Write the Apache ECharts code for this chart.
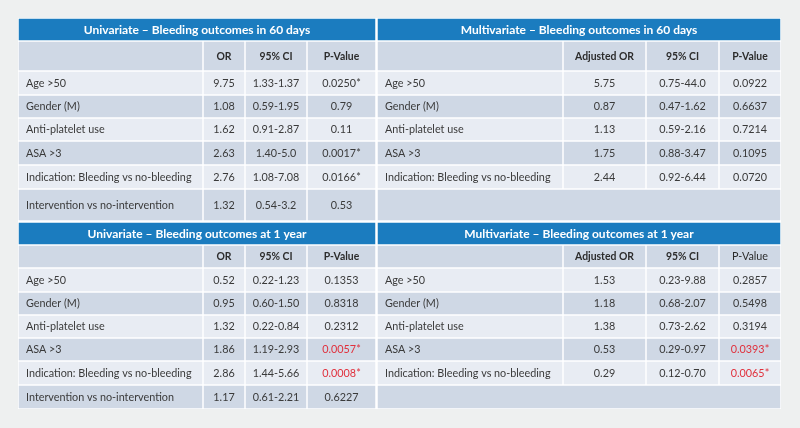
<!DOCTYPE html>
<html><head><meta charset="utf-8">
<script src="https://cdn.jsdelivr.net/npm/echarts@6/dist/echarts.min.js"></script>
<style>html,body{margin:0;padding:0;background:#eef0f0}#c{width:800px;height:428px}</style>
</head><body><div id="c"></div>
<script>
// ---- data ----
const titles = ['Univariate – Bleeding outcomes in 60 days','Multivariate – Bleeding outcomes in 60 days','Univariate – Bleeding outcomes at 1 year','Multivariate – Bleeding outcomes at 1 year'];
const uniHeads = ['OR','95% CI','P-Value'];
const multiHeads = ['Adjusted OR','95% CI','P-Value'];
const rowLabels = ['Age >50','Gender (M)','Anti-platelet use','ASA >3','Indication: Bleeding vs no-bleeding','Intervention vs no-intervention'];
const uni60_OR = ['9.75','1.08','1.62','2.63','2.76','1.32'];
const uni60_CI = ['1.33-1.37','0.59-1.95','0.91-2.87','1.40-5.0','1.08-7.08','0.54-3.2'];
const uni60_P  = ['0.0250*','0.79','0.11','0.0017*','0.0166*','0.53'];
const multi60_OR = ['5.75','0.87','1.13','1.75','2.44'];
const multi60_CI = ['0.75-44.0','0.47-1.62','0.59-2.16','0.88-3.47','0.92-6.44'];
const multi60_P  = ['0.0922','0.6637','0.7214','0.1095','0.0720'];
const uni1y_OR = ['0.52','0.95','1.32','1.86','2.86','1.17'];
const uni1y_CI = ['0.22-1.23','0.60-1.50','0.22-0.84','1.19-2.93','1.44-5.66','0.61-2.21'];
const uni1y_P  = ['0.1353','0.8318','0.2312','0.0057*','0.0008*','0.6227'];
const multi1y_OR = ['1.53','1.18','1.38','0.53','0.29'];
const multi1y_CI = ['0.23-9.88','0.68-2.07','0.73-2.62','0.29-0.97','0.12-0.70'];
const multi1y_P  = ['0.2857','0.5498','0.3194','0.0393*','0.0065*'];
const redUni1y = [3,4];
const redMulti1y = [3,4];

// ---- layout (pixel units on hidden axes) ----
const colEdges = [[18,203,245,307,376],[377,563,646,719,781]];
const rowEdges = [[18,41,71,95,118,141,165,189,221],[222,245,268,292,315,338,361,385,409]];
const C = {blue:'#1b7cbf', dark:'#cfd8e5', light:'#e8ecf3', text:'#3a3a3a', red:'#e0303c', white:'#ffffff'};
const FONT = 'Lato, "Noto Sans", sans-serif';
const SZ = {title:12, head:10.4, body:10.8};

const panels = [
  {side:0, sec:0, title:titles[0], heads:uniHeads, or:uni60_OR, ci:uni60_CI, p:uni60_P, red:[], pBold:true},
  {side:1, sec:0, title:titles[1], heads:multiHeads, or:multi60_OR, ci:multi60_CI, p:multi60_P, red:[], pBold:true},
  {side:0, sec:1, title:titles[2], heads:uniHeads, or:uni1y_OR, ci:uni1y_CI, p:uni1y_P, red:redUni1y, pBold:true},
  {side:1, sec:1, title:titles[3], heads:multiHeads, or:multi1y_OR, ci:multi1y_CI, p:multi1y_P, red:redMulti1y, pBold:false}
];

const cells = [];
cells.push({x0:18,x1:781,y0:18,y1:409,fill:C.white,gap:0});
panels.forEach(pn => {
  const X = colEdges[pn.side], Y = rowEdges[pn.sec];
  cells.push({x0:X[0],x1:X[4],y0:Y[0],y1:Y[1],fill:C.blue,text:pn.title,align:'center',color:'#fff',weight:'bold',size:SZ.title});
  cells.push({x0:X[0],x1:X[1],y0:Y[1],y1:Y[2],fill:C.dark});
  pn.heads.forEach((h,j)=>{
    const bold = !(j===2 && !pn.pBold);
    cells.push({x0:X[j+1],x1:X[j+2],y0:Y[1],y1:Y[2],fill:C.dark,text:h,align:'center',color:'#2c2c2c',weight:bold?'bold':'normal',size:bold?SZ.head:SZ.body});
  });
  for (let r=0;r<6;r++){
    const fill = r%2===0 ? C.light : C.dark;
    const y0 = Y[r+2], y1 = Y[r+3];
    if (r >= pn.or.length){
      cells.push({x0:X[0],x1:X[4],y0,y1,fill});
      continue;
    }
    cells.push({x0:X[0],x1:X[1],y0,y1,fill,text:rowLabels[r],align:'left',color:C.text,size:SZ.body});
    const vals=[pn.or[r],pn.ci[r],pn.p[r]];
    vals.forEach((v,j)=>{
      const isRed = j===2 && pn.red.indexOf(r)>=0;
      cells.push({x0:X[j+1],x1:X[j+2],y0,y1,fill,text:v,align:'center',color:isRed?C.red:C.text,size:SZ.body});
    });
  }
});

const chart = echarts.init(document.getElementById('c'), null, {renderer:'canvas'});
chart.setOption({
  backgroundColor:'#eef0f0',
  animation:false,
  grid:{left:0,right:0,top:0,bottom:0},
  xAxis:{type:'value',min:0,max:800,show:false},
  yAxis:{type:'value',min:0,max:428,inverse:true,show:false},
  series:[{
    type:'custom',
    coordinateSystem:'cartesian2d',
    data: cells.map((c,i)=>[c.x0,c.y0,i]),
    renderItem:function(params, api){
      const c = cells[params.dataIndex];
      const p0 = api.coord([c.x0,c.y0]), p1 = api.coord([c.x1,c.y1]);
      const g = c.gap===undefined ? 0.75 : c.gap;
      const children = [{type:'rect',shape:{x:p0[0]+g,y:p0[1]+g,width:p1[0]-p0[0]-2*g,height:p1[1]-p0[1]-2*g},style:{fill:c.fill}}];
      if (c.text){
        const tx = c.align==='left' ? p0[0]+8 : (p0[0]+p1[0])/2;
        children.push({type:'text',style:{text:c.text,x:tx,y:(p0[1]+p1[1])/2+0.5,align:c.align,verticalAlign:'middle',fill:c.color,font:(c.weight==='bold'?'bold ':'')+c.size+'px '+FONT}});
      }
      return {type:'group',children};
    }
  }]
});
</script></body></html>
